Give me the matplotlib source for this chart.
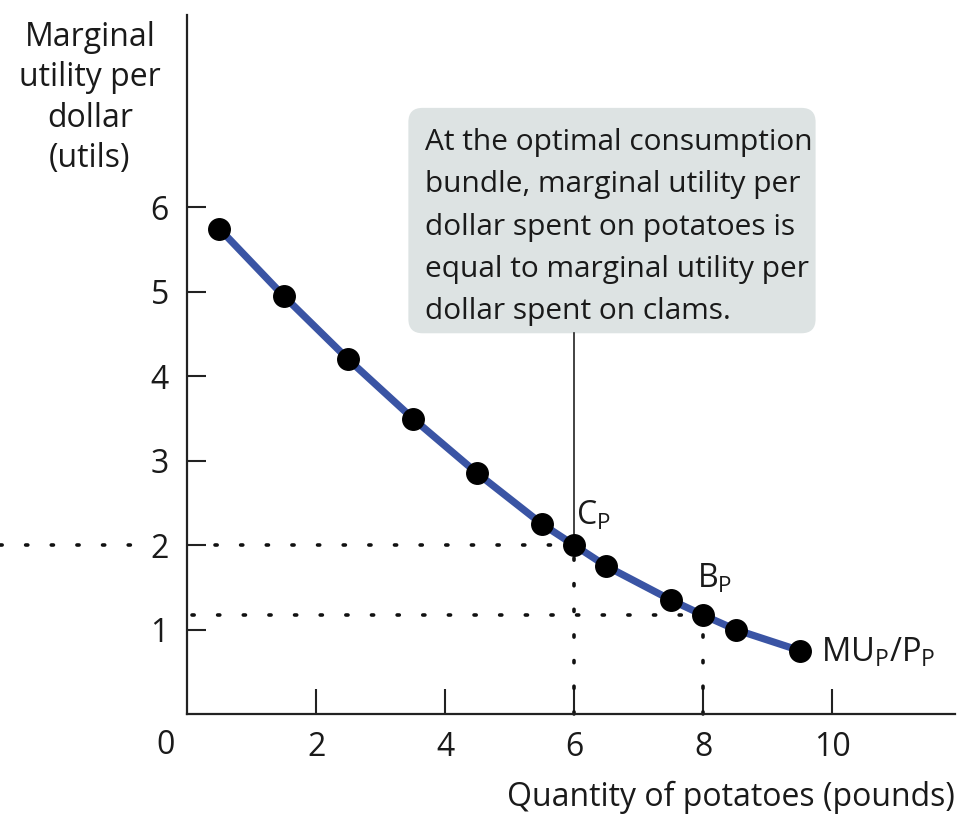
import matplotlib
matplotlib.use("Agg")
import matplotlib.pyplot as plt
from matplotlib.patches import FancyBboxPatch

plt.rcParams['font.family'] = ['Open Sans', 'DejaVu Sans']
plt.rcParams['mathtext.fontset'] = 'custom'
plt.rcParams['mathtext.rm'] = 'Open Sans'
plt.rcParams['mathtext.it'] = 'Open Sans'

# data
quantity = [0.5, 1.5, 2.5, 3.5, 4.5, 5.5, 6.0, 6.5, 7.5, 8.0, 8.5, 9.5]
mu_per_dollar = [5.75, 4.95, 4.2, 3.5, 2.85, 2.25, 2.0, 1.75, 1.35, 1.17, 1.0, 0.75]
x_ticks = [2, 4, 6, 8, 10]
y_ticks = [1, 2, 3, 4, 5, 6]
point_c = (6.0, 2.0)
point_b = (8.0, 1.17)

TXT = '#1a1a1a'
fig = plt.figure(figsize=(9.77, 8.16), dpi=100)
ax = fig.add_axes([187/977, 102/816, 768/977, 699/816])
ax.set_xlim(0, 11.9)
ax.set_ylim(0, 8.28)

for s in ['top', 'right']:
    ax.spines[s].set_visible(False)
for s in ['left', 'bottom']:
    ax.spines[s].set_linewidth(1.6)
    ax.spines[s].set_color('#222222')

ax.set_xticks(x_ticks)
ax.set_yticks(y_ticks)
ax.tick_params(axis='x', direction='in', length=18, width=1.5, pad=12, labelsize=23, colors='#222222')
ax.tick_params(axis='y', direction='in', length=14, width=1.5, pad=13, labelsize=23, colors='#222222')
for lab in ax.get_xticklabels() + ax.get_yticklabels():
    lab.set_color(TXT)
ax.text(-0.33, -0.37, '0', ha='center', va='center', fontsize=23, color=TXT)

# dotted guide lines
dot = dict(color='#111111', linestyle=(0, (0.6, 6.5)), linewidth=2.6, dash_capstyle='round', clip_on=False)
ax.plot([-2.9, -0.62], [point_c[1], point_c[1]], **dot)
ax.plot([0.43, point_c[0]], [point_c[1], point_c[1]], **dot)
ax.plot([point_c[0], point_c[0]], [0, point_c[1]], **dot)
ax.plot([0.08, point_b[0]], [point_b[1], point_b[1]], **dot)
ax.plot([point_b[0], point_b[0]], [0, point_b[1]], **dot)

# curve
ax.plot(quantity, mu_per_dollar, color='#3a54a4', linewidth=5.2, solid_capstyle='round', zorder=3)
ax.scatter(quantity, mu_per_dollar, s=240, color='black', zorder=4)

# annotation box
box = FancyBboxPatch((3.43, 4.51), 6.31, 2.67, boxstyle='round,pad=0.0,rounding_size=0.22',
                     facecolor='#dde3e3', edgecolor='none', zorder=1, mutation_aspect=64.5/84.4)
ax.add_patch(box)
ax.text(3.69, 6.94,
        "At the optimal consumption\nbundle, marginal utility per\ndollar spent on potatoes is\n"
        "equal to marginal utility per\ndollar spent on clams.",
        ha='left', va='top', fontsize=21.5, linespacing=1.6, color=TXT, zorder=2)
ax.plot([point_c[0], point_c[0]], [point_c[1], 4.51], color='#222222', linewidth=1.2, zorder=2)

# point labels
ax.text(6.02, 2.15, r'C$_\mathrm{P}$', fontsize=23, ha='left', va='bottom', color=TXT)
ax.text(7.9, 1.4, r'B$_\mathrm{P}$', fontsize=23, ha='left', va='bottom', color=TXT)
ax.text(9.82, 0.72, r'MU$_\mathrm{P}$/P$_\mathrm{P}$', fontsize=23.5, ha='left', va='center', color=TXT)

# axis titles
fig.text(90/977, 1 - 98/816, "Marginal\nutility per\ndollar\n(utils)", ha='center', va='center',
         fontsize=23, linespacing=1.3, color=TXT)
fig.text(955/977, 1 - 797/816, "Quantity of potatoes (pounds)", ha='right', va='center',
         fontsize=23, color=TXT)

fig.savefig('out.png', dpi=100)
